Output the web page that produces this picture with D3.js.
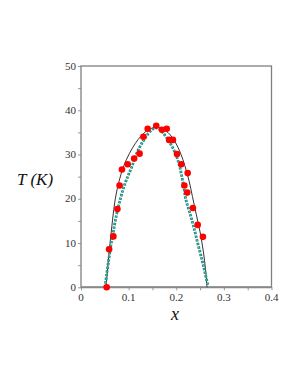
<!DOCTYPE html>
<html><head><meta charset="utf-8">
<script src="https://cdn.jsdelivr.net/npm/d3@7"></script>
<style>body{margin:0;background:#fff}svg{display:block}</style>
</head><body>
<svg id="c" width="298" height="385"></svg>
<script>
const xTicks = [0, 0.1, 0.2, 0.3, 0.4];
const yTicks = [0, 10, 20, 30, 40, 50];
const dataX = [0.054,0.059,0.068,0.0765,0.081,0.086,0.098,0.1116,0.123,0.131,0.140,0.158,0.170,0.180,0.185,0.193,0.2015,0.2105,0.224,0.217,0.223,0.235,0.245,0.256];
const dataT = [0,8.6,11.5,17.7,23.0,26.6,27.8,29.1,30.2,34.0,35.8,36.5,35.6,35.8,33.3,33.3,30.1,27.8,25.8,23.0,21.4,17.9,14.1,11.4];
const blackX = [0.0526,0.0565,0.061,0.066,0.072,0.080,0.090,0.102,0.114,0.127,0.142,0.158,0.172,0.186,0.198,0.209,0.218,0.227,0.234,0.242,0.250,0.257,0.2615,0.2646];
const blackT = [0,5,10,15,20,24,27.5,30.3,32.5,34.3,35.6,36.2,35.8,34.6,32.8,30.3,27.5,24,20.5,16.5,12.5,8,4,0];
const tealX = [0.0505,0.054,0.058,0.062,0.067,0.072,0.078,0.084,0.091,0.0996,0.107,0.117,0.128,0.1417,0.150,0.158,0.165,0.173,0.187,0.198,0.206,0.211,0.216,0.220,0.228,0.2365,0.245,0.254,0.260,0.2667];
const tealT = [0,3,6,9,12,15,18,20.5,23,25.4,27.3,30.3,32.6,34.8,35.7,36.0,35.7,34.8,32.6,30.3,27.8,25.4,22.5,19.9,17,13.7,10,6.2,3.5,0.3];

const svg = d3.select("#c");
const x = d3.scaleLinear().domain([0,0.4]).range([81,271.5]);
const y = d3.scaleLinear().domain([0,50]).range([287.3,66]);
const serif = "'Liberation Serif','DejaVu Serif',serif";

// minor ticks
const gx = svg.append("g").attr("transform","translate(0,287.3)")
  .call(d3.axisBottom(x).tickValues(d3.range(0,0.41,0.05)).tickSize(3).tickFormat(""));
gx.select(".domain").remove();
gx.selectAll("line").attr("stroke","#999");
const gy = svg.append("g").attr("transform","translate(81,0)")
  .call(d3.axisLeft(y).tickValues(d3.range(0,51,5)).tickSize(3).tickFormat(""));
gy.select(".domain").remove();
gy.selectAll("line").attr("stroke","#999");

// frame
svg.append("rect").attr("x",x(0)).attr("y",y(50)).attr("width",x(0.4)-x(0)).attr("height",y(0)-y(50))
  .attr("fill","none").attr("stroke","#808080").attr("stroke-width",1.3);
svg.append("line").attr("x1",x(0)).attr("x2",x(0.4)).attr("y1",y(0)).attr("y2",y(0))
  .attr("stroke","#888").attr("stroke-width",2);

// tick labels
svg.selectAll(".xl").data(xTicks).join("text")
  .attr("x",d=>x(d)).attr("y",301).attr("text-anchor","middle")
  .attr("font-family",serif).attr("font-size",11).attr("fill","#333").text(d=>d===0?"0":d3.format(".1f")(d));
svg.selectAll(".yl").data(yTicks).join("text")
  .attr("x",76).attr("y",d=>y(d)+3.7).attr("text-anchor","end")
  .attr("font-family",serif).attr("font-size",11).attr("fill","#333").text(d=>d);

// axis titles
svg.append("text").attr("x",17).attr("y",185).attr("font-family",serif).attr("font-size",17)
  .attr("font-style","italic").attr("fill","#111").text("T (K)");
svg.append("text").attr("x",175).attr("y",320).attr("text-anchor","middle").attr("font-family",serif).attr("font-size",18)
  .attr("font-style","italic").attr("fill","#111").text("x");

const line = d3.line().curve(d3.curveCatmullRom);
// black curve
svg.append("path").attr("d", line(blackX.map((v,i)=>[x(v),y(blackT[i])])))
  .attr("fill","none").attr("stroke","#333").attr("stroke-width",1);
// teal markers curve
const tealPts = tealX.map((v,i)=>[x(v),y(tealT[i])]);
svg.append("path").attr("d", line(tealPts))
  .attr("fill","none").attr("stroke","#1b8c80").attr("stroke-width",2.8).attr("stroke-dasharray","2.4,1.3");
svg.append("path").attr("d", line(tealPts))
  .attr("fill","none").attr("stroke","#9ed8cf").attr("stroke-width",0.8).attr("stroke-dasharray","0.8,2.9").attr("stroke-dashoffset",-0.8);
// red dots
svg.selectAll(".d").data(dataX).join("circle")
  .attr("cx",d=>x(d)).attr("cy",(d,i)=>y(dataT[i])).attr("r",3.3).attr("fill","#ff0000");
</script>
</body></html>
